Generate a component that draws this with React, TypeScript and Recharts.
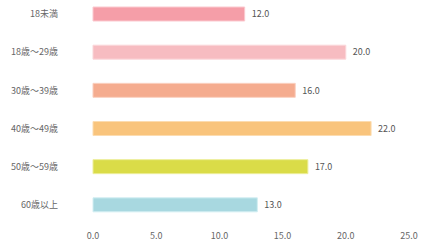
import React from 'react';
import { BarChart, Bar, XAxis, YAxis, LabelList, Cell } from 'recharts';

const categories = ['18未満', '18歳～29歳', '30歳～39歳', '40歳～49歳', '50歳～59歳', '60歳以上'];
const values = [12, 20, 16, 22, 17, 13];
const colors = ['#f59ea8', '#f7bcc1', '#f5ac8f', '#f9c47c', '#dadc48', '#a8d8e0'];
const strokes = ['#fbc9cf', '#fbd8db', '#fad0c0', '#fcdcb0', '#ecee9a', '#d2eef2'];
const xTicks = [0, 5, 10, 15, 20, 25];

const data = categories.map((c, i) => ({ name: c, value: values[i] }));

const font = '"Noto Sans CJK JP", "Noto Sans", sans-serif';

export default function App() {
  return (
    <div style={{ position: 'absolute', left: 0, top: -5 }}>
      <BarChart
        width={430}
        height={249}
        data={data}
        layout="vertical"
        margin={{ top: 0, right: 21, bottom: 0, left: 0 }}
      >
        <XAxis
          type="number"
          domain={[0, 25]}
          ticks={xTicks}
          tickFormatter={(v: number) => v.toFixed(1)}
          axisLine={false}
          tickLine={false}
          height={20}
          tickMargin={3}
          tick={{ fontSize: 9, fill: '#666', fontFamily: font }}
          interval={0}
        />
        <YAxis
          type="category"
          dataKey="name"
          width={93}
          axisLine={false}
          tickLine={false}
          tickMargin={29}
          tick={{ fontSize: 9, fill: '#666', fontFamily: font }}
          interval={0}
        />
        <Bar dataKey="value" barSize={14} isAnimationActive={false}>
          {data.map((d, i) => (
            <Cell key={d.name} fill={colors[i]} stroke={strokes[i]} strokeWidth={1} />
          ))}
          <LabelList
            dataKey="value"
            position="right"
            offset={7}
            formatter={(v: number) => Number(v).toFixed(1)}
            style={{ fontSize: 9, fill: '#555', fontFamily: font }}
          />
        </Bar>
      </BarChart>
    </div>
  );
}
